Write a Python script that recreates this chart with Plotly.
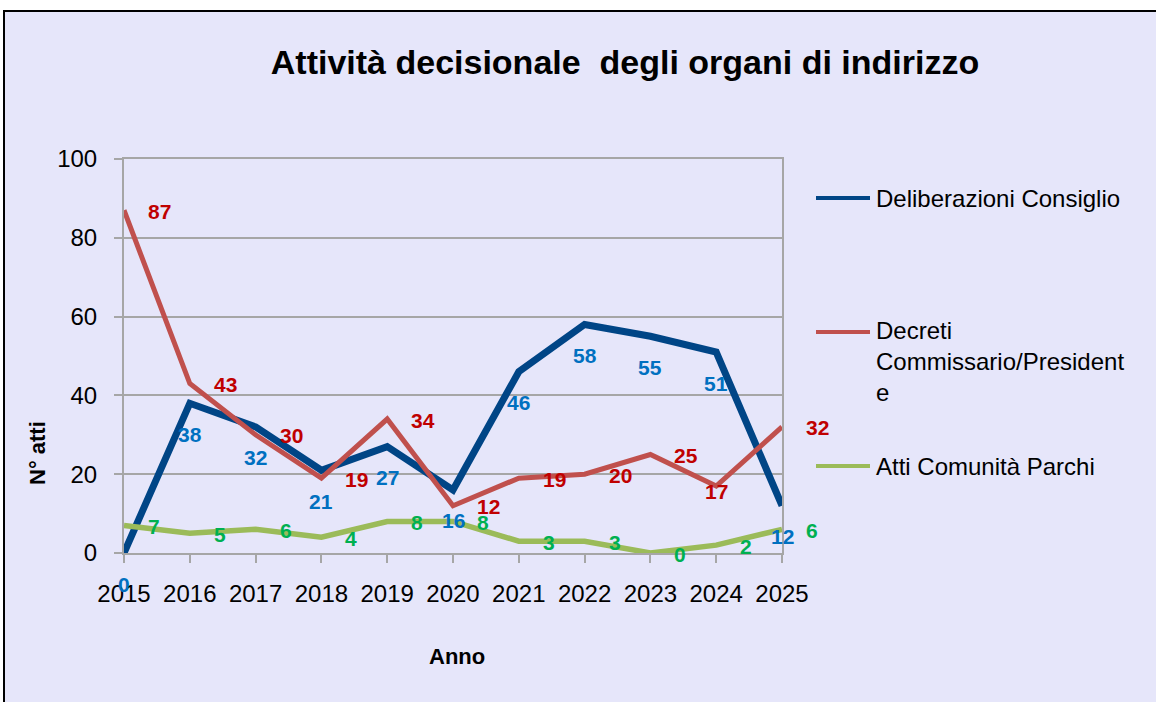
import plotly.graph_objects as go

# ---- data ----
years = [2015, 2016, 2017, 2018, 2019, 2020, 2021, 2022, 2023, 2024, 2025]
deliberazioni = [0, 38, 32, 21, 27, 16, 46, 58, 55, 51, 12]
decreti = [87, 43, 30, 19, 34, 12, 19, 20, 25, 17, 32]
atti = [7, 5, 6, 4, 8, 8, 3, 3, 0, 2, 6]
series_names = ["Deliberazioni Consiglio",
                "Decreti<br>Commissario/President<br>e",
                "Atti Comunità Parchi"]
y_ticks = [0, 20, 40, 60, 80, 100]
title_text = "Attività decisionale  degli organi di indirizzo"
x_title = "Anno"
y_title = "N° atti"

# ---- style ----
FONT = "Liberation Sans, Arial, sans-serif"
line_colors = ["#004586", "#C0504D", "#9BBB59"]
label_colors = ["#0070C0", "#C00000", "#00B050"]
line_widths = [7, 5, 5.5]
LBL = 21
W, H = 1156, 702
L, R, T, B = 124, 374, 159, 149
PW, PH = W - L - R, H - T - B


def px_x(p):
    return (p - L) / PW


def px_y(p):
    return (H - B - p) / PH


fig = go.Figure()
all_series = [deliberazioni, decreti, atti]
for name, vals, col, lw in zip(series_names, all_series, line_colors, line_widths):
    fig.add_trace(go.Scatter(x=years, y=vals, mode="lines", name=name,
                             line=dict(color=col, width=lw), showlegend=False,
                             hoverinfo="skip"))

annotations = []
# data labels
for yr, v in zip(years, deliberazioni):
    annotations.append(dict(x=yr, y=v, xref="x", yref="y", text=f"<b>{v}</b>",
                            showarrow=False, xanchor="center", yanchor="middle",
                            yshift=-31, font=dict(family=FONT, size=LBL, color=label_colors[0])))
for yr, v in zip(years, decreti):
    if yr == 2024:
        annotations.append(dict(x=yr, y=v, xref="x", yref="y", text=f"<b>{v}</b>",
                                showarrow=False, xanchor="center", yanchor="middle",
                                yshift=-5, font=dict(family=FONT, size=LBL, color=label_colors[1])))
    else:
        annotations.append(dict(x=yr, y=v, xref="x", yref="y", text=f"<b>{v}</b>",
                                showarrow=False, xanchor="left", yanchor="middle",
                                xshift=22, yshift=-1, font=dict(family=FONT, size=LBL, color=label_colors[1])))
for yr, v in zip(years, atti):
    annotations.append(dict(x=yr, y=v, xref="x", yref="y", text=f"<b>{v}</b>",
                            showarrow=False, xanchor="left", yanchor="middle",
                            xshift=22, yshift=-1, font=dict(family=FONT, size=LBL, color=label_colors[2])))

# axis titles
annotations.append(dict(x=px_x(457), y=px_y(656), xref="paper", yref="paper",
                        text=f"<b>{x_title}</b>", showarrow=False,
                        xanchor="center", yanchor="middle",
                        font=dict(family=FONT, size=22, color="black")))
annotations.append(dict(x=px_x(37), y=px_y(453), xref="paper", yref="paper",
                        text=f"<b>{y_title}</b>", showarrow=False, textangle=-90,
                        xanchor="center", yanchor="middle",
                        font=dict(family=FONT, size=22, color="black")))

shapes = []
# chart area background (behind plot area)
shapes.append(dict(type="rect", xref="paper", yref="paper",
                   x0=px_x(4), x1=px_x(1300), y0=px_y(900), y1=px_y(11),
                   line=dict(width=0), fillcolor="#E6E6FA", layer="below"))
# manual legend
legend_y = [198, 332, 466]
legend_text_y = [198, 361, 466]
for name, col, ly, ty in zip(series_names, line_colors, legend_y, legend_text_y):
    shapes.append(dict(type="line", xref="paper", yref="paper",
                       x0=px_x(816), x1=px_x(870), y0=px_y(ly), y1=px_y(ly),
                       line=dict(color=col, width=4)))
    annotations.append(dict(x=px_x(874), y=px_y(ty), xref="paper", yref="paper",
                            text=name, showarrow=False, xanchor="left", yanchor="middle",
                            align="left",
                            font=dict(family=FONT, size=24, color="black")))

# outer frame
shapes.append(dict(type="rect", xref="paper", yref="paper",
                   x0=px_x(4), x1=px_x(1300), y0=px_y(900), y1=px_y(11),
                   line=dict(color="black", width=2), fillcolor="rgba(0,0,0,0)",
                   layer="above"))

grid_col = "#A6A6A6"
fig.update_layout(
    width=W, height=H,
    margin=dict(l=L, r=R, t=T, b=B, pad=0),
    paper_bgcolor="white",
    plot_bgcolor="#CCFFCC",
    title=dict(text=f"<b>{title_text}</b>", x=625 / W, y=1 - 62 / H,
               xref="container", yref="container", xanchor="center", yanchor="middle",
               font=dict(family=FONT, size=34, color="black")),
    xaxis=dict(range=[years[0], years[-1]], tickvals=years, ticktext=[str(y) for y in years],
               showgrid=False, showline=True, linecolor=grid_col, linewidth=2, mirror=True,
               ticks="outside", ticklen=8, tickcolor=grid_col, tickwidth=2,
               ticklabelstandoff=10,
               tickfont=dict(family=FONT, size=24, color="black"), zeroline=False),
    yaxis=dict(range=[0, 100], tickvals=y_ticks,
               showgrid=True, gridcolor=grid_col, gridwidth=2,
               showline=True, linecolor=grid_col, linewidth=2, mirror=True,
               ticks="outside", ticklen=8, tickcolor=grid_col, tickwidth=2,
               ticklabelstandoff=12,
               tickfont=dict(family=FONT, size=24, color="black"), zeroline=False),
    annotations=annotations,
    shapes=shapes,
    showlegend=False,
    hovermode=False,
)

fig.write_html("out.html", config={"displayModeBar": False},
               post_script="document.body.style.margin='0';")
